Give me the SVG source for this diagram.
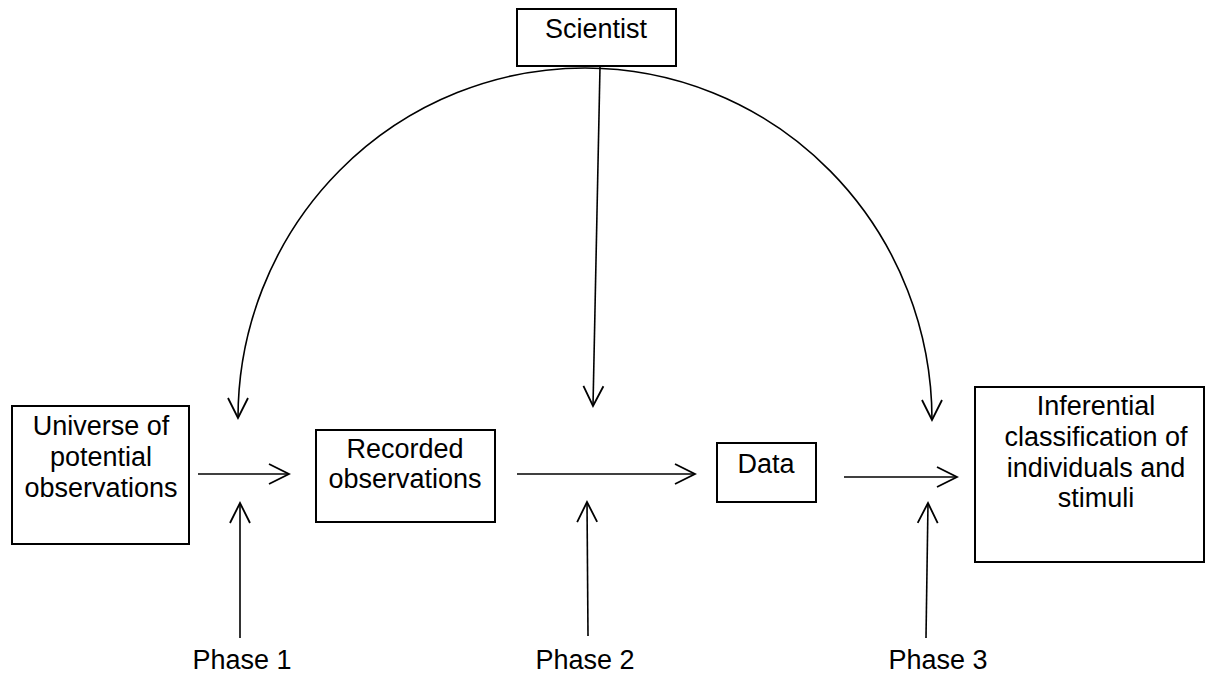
<svg xmlns="http://www.w3.org/2000/svg" width="1208" height="675" viewBox="0 0 1208 675">
  <style>
    .box { fill: #fff; stroke: #000; stroke-width: 2; }
    .lbl { font-family: "Liberation Sans", Arial, sans-serif; font-size: 27px; fill: #000; text-anchor: middle; }
    .wire { fill: none; stroke: #000; stroke-width: 1.6; }
  </style>
  <defs>
    <marker id="open" viewBox="-22 -12 24 24" markerWidth="24" markerHeight="24" refX="0" refY="0" orient="auto" markerUnits="userSpaceOnUse">
      <polyline points="-20,-10 0,0 -20,10" fill="none" stroke="#000" stroke-width="1.8"/>
    </marker>
  </defs>
  <rect width="1208" height="675" fill="#fff"/>

  <!-- connectors -->
  <g id="connectors" class="wire">
    <!-- scientist influence on each phase -->
    <path d="M 585 68 A 347 350 0 0 0 238 418" marker-end="url(#open)"/>
    <path d="M 585 68 A 347 352 0 0 1 932 420" marker-end="url(#open)"/>
    <path d="M 600 67 L 593 406" marker-end="url(#open)"/>
    <!-- main flow -->
    <path d="M 198 474 L 289 474" marker-end="url(#open)"/>
    <path d="M 517 474 L 695 474" marker-end="url(#open)"/>
    <path d="M 844 477 L 957 477" marker-end="url(#open)"/>
    <!-- phase pointers -->
    <path d="M 240 638 L 240 503" marker-end="url(#open)"/>
    <path d="M 588 636 L 587 502" marker-end="url(#open)"/>
    <path d="M 926 638 L 928 503" marker-end="url(#open)"/>
  </g>

  <g id="scientist">
    <rect class="box" x="517" y="9" width="159" height="57"/>
    <text class="lbl" x="596" y="38">Scientist</text>
  </g>

  <g id="universe">
    <rect class="box" x="12" y="406" width="177" height="138"/>
    <text class="lbl" x="101" y="435">Universe of</text>
    <text class="lbl" x="101" y="466">potential</text>
    <text class="lbl" x="101" y="497">observations</text>
  </g>

  <g id="recorded">
    <rect class="box" x="316" y="430" width="179" height="92"/>
    <text class="lbl" x="405" y="458">Recorded</text>
    <text class="lbl" x="405" y="488">observations</text>
  </g>

  <g id="data">
    <rect class="box" x="717" y="443" width="99" height="59"/>
    <text class="lbl" x="766" y="473">Data</text>
  </g>

  <g id="inferential">
    <rect class="box" x="975" y="387" width="229" height="175"/>
    <text class="lbl" x="1096" y="415">Inferential</text>
    <text class="lbl" x="1096" y="446">classification of</text>
    <text class="lbl" x="1096" y="477">individuals and</text>
    <text class="lbl" x="1096" y="507">stimuli</text>
  </g>

  <g id="phase1"><text class="lbl" x="242" y="669">Phase 1</text></g>
  <g id="phase2"><text class="lbl" x="585" y="669">Phase 2</text></g>
  <g id="phase3"><text class="lbl" x="938" y="669">Phase 3</text></g>
</svg>
